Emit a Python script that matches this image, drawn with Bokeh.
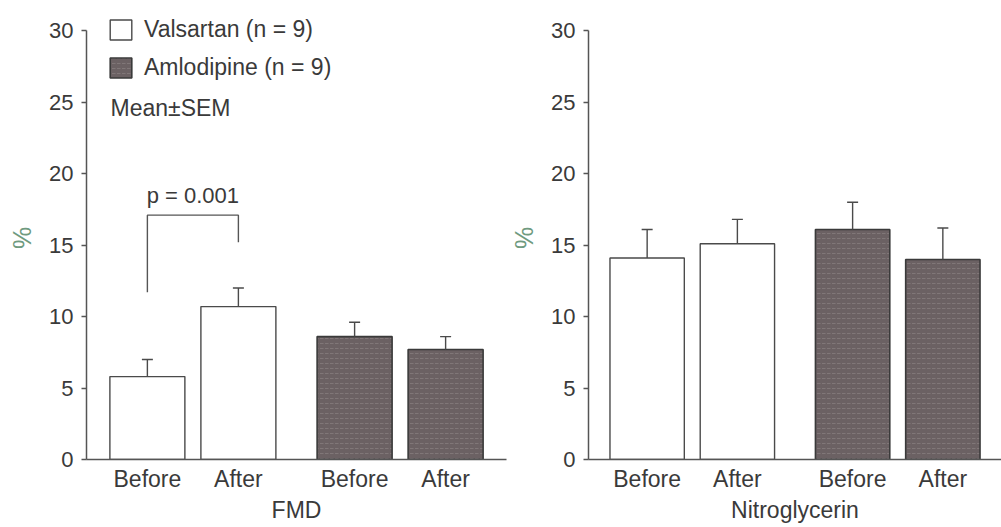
from bokeh.plotting import figure
from bokeh.models import (ColumnDataSource, FactorRange, Range1d, Whisker, TeeHead,
                          Legend, LegendItem, Label, FixedTicker, CDSView, GroupFilter)
from bokeh.core.properties import value
from bokeh.layouts import row
from bokeh.embed import file_html
from bokeh.resources import INLINE

# ---------------- data ----------------
drugs = ["Valsartan", "Amlodipine"]
times = ["Before", "After"]
legend_labels = ["Valsartan (n = 9)", "Amlodipine (n = 9)"]

fmd_mean = [5.8, 10.7, 8.6, 7.7]
fmd_sem = [1.2, 1.3, 1.0, 0.9]
ntg_mean = [14.1, 15.1, 16.1, 14.0]
ntg_sem = [2.0, 1.7, 1.9, 2.2]

y_ticks = [0, 5, 10, 15, 20, 25, 30]
y_max = 30
panel_titles = ["FMD", "Nitroglycerin"]
y_label = "%"

p_text = "p = 0.001"
p_bracket_y = [11.7, 17.1, 17.1, 15.2]
p_text_y = 18.5
note_text = "Mean\u00b1SEM"

# ---------------- styling ----------------
FONT = "Liberation Sans"
TXT = "#3a3a3a"
AXC = "#555555"
PCT = "#6f9a80"
AMLO_FILL = "#6b6163"

factors = [(d, t) for d in drugs for t in times]
drug_col = [d for d in drugs for t in times]


def make_panel(means, sems, title, width, border_left, border_right, border_top, border_bottom, rp):
    x_range = FactorRange(*factors, factor_padding=0.0, group_padding=0.277,
                          range_padding=rp, range_padding_units="absolute")
    # a little head-room above 30 so the legend is not clipped; axis line stops at 30
    p = figure(x_range=x_range, y_range=Range1d(0, y_max + 1), width=width, height=527,
               output_backend="svg", toolbar_location=None,
               min_border_left=border_left, min_border_right=border_right,
               min_border_top=border_top, min_border_bottom=border_bottom)
    p.outline_line_color = None
    p.grid.visible = False
    p.background_fill_color = "white"
    p.border_fill_color = "white"

    src = ColumnDataSource(dict(
        x=factors, drug=drug_col, mean=means,
        upper=[m + s for m, s in zip(means, sems)],
    ))
    v_view = CDSView(filter=GroupFilter(column_name="drug", group=drugs[0]))
    a_view = CDSView(filter=GroupFilter(column_name="drug", group=drugs[1]))
    bw = 0.824
    rv = p.vbar(x="x", top="mean", bottom=0, width=bw, source=src, view=v_view,
                fill_color="white", line_color="#4a4a4a", line_width=1.4)
    ra = p.vbar(x="x", top="mean", bottom=0, width=bw, source=src, view=a_view,
                fill_color=AMLO_FILL, line_color="#3a3a3a", line_width=1.6,
                hatch_pattern="horizontal_dash", hatch_color="#928889",
                hatch_scale=5, hatch_weight=1, hatch_alpha=0.55)

    wk = Whisker(source=src, base="x", upper="upper", lower="mean", dimension="height",
                 upper_head=TeeHead(size=11, line_color="#4a4a4a", line_width=1.4),
                 lower_head=None, line_color="#4a4a4a", line_width=1.4, level="overlay")
    p.add_layout(wk)

    # y axis
    ya = p.yaxis[0]
    ya.ticker = FixedTicker(ticks=y_ticks)
    ya.bounds = (0, y_max)
    ya.axis_label = y_label
    ya.axis_label_text_color = PCT
    ya.axis_label_text_font = FONT
    ya.axis_label_text_font_size = "25px"
    ya.axis_label_text_font_style = "normal"
    ya.axis_label_standoff = 10
    ya.major_label_text_font = FONT
    ya.major_label_text_font_size = "22px"
    ya.major_label_text_color = TXT
    ya.major_label_standoff = 8
    ya.major_tick_out = 5
    ya.major_tick_in = 0
    ya.major_tick_line_color = AXC
    ya.major_tick_line_width = 1.3
    ya.minor_tick_line_color = None
    ya.axis_line_color = AXC
    ya.axis_line_width = 1.5

    # x axis
    xa = p.xaxis[0]
    xa.axis_label = title
    xa.axis_label_text_font = FONT
    xa.axis_label_text_font_size = "23px"
    xa.axis_label_text_font_style = "normal"
    xa.axis_label_text_color = TXT
    xa.axis_label_standoff = 2
    xa.major_label_text_font = FONT
    xa.major_label_text_font_size = "23px"
    xa.major_label_text_color = TXT
    xa.major_label_standoff = 6
    xa.major_tick_line_color = None
    xa.major_tick_out = 0
    xa.major_tick_in = 0
    xa.minor_tick_line_color = None
    xa.group_text_font_size = "0px"
    xa.group_text_alpha = 0
    xa.separator_line_alpha = 0
    xa.axis_line_color = AXC
    xa.axis_line_width = 1.5
    return p, rv, ra


left, rv, ra = make_panel(fmd_mean, fmd_sem, panel_titles[0], 507, 86, 1, 16, 67, 0.169)
right, _, _ = make_panel(ntg_mean, ntg_sem, panel_titles[1], 494, 78, 0, 10, 68, 0.15)

# legend
legend = Legend(items=[LegendItem(label=legend_labels[0], renderers=[rv]),
                       LegendItem(label=legend_labels[1], renderers=[ra])],
                location=(21, 378), orientation="vertical",
                glyph_width=27, glyph_height=25, label_height=25,
                label_standoff=10, spacing=11, padding=0, margin=0,
                label_text_font=FONT, label_text_font_size="23px",
                label_text_color=TXT, border_line_alpha=0, background_fill_alpha=0)
left.add_layout(legend)

left.add_layout(Label(x=24, y=352, x_units="screen", y_units="screen", text=note_text,
                      text_font=FONT, text_font_size="23px", text_color=TXT,
                      text_baseline="middle", text_align="left"))

# p-value bracket
f0, f1 = factors[0], factors[1]
bracket_src = ColumnDataSource(dict(x=[f0, f0, f1, f1], y=p_bracket_y))
left.line(x="x", y="y", source=bracket_src, line_color="#555555", line_width=1.4)
left.text(x=[drugs[0]], y=[p_text_y], text=[p_text], text_align="center",
          text_baseline="middle", text_font=value(FONT), text_font_size="22px",
          text_color=TXT)

layout = row(left, right)
open("out.html", "w").write(file_html(layout, INLINE))
